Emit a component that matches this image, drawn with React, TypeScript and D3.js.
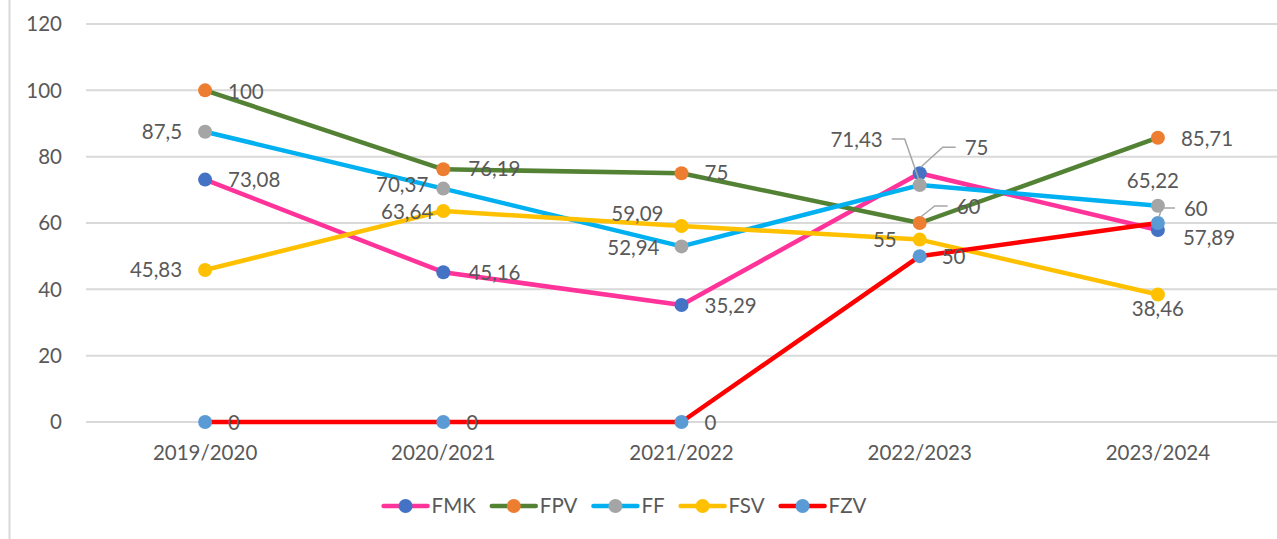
import { useEffect, useRef } from 'react'
import * as d3 from 'd3'

const years = ['2019/2020', '2020/2021', '2021/2022', '2022/2023', '2023/2024']
const yTicks = [0, 20, 40, 60, 80, 100, 120]

const fmk = [73.08, 45.16, 35.29, 75, 57.89]
const fpv = [100, 76.19, 75, 60, 85.71]
const ff = [87.5, 70.37, 52.94, 71.43, 65.22]
const fsv = [45.83, 63.64, 59.09, 55, 38.46]
const fzv = [0, 0, 0, 50, 60]

// label placement per point: [dx, dy, anchor, leader?]
type Place = [number, number, string, boolean?]
const fmkPlace: Place[] = [[23, 0, 'start'], [25, 1, 'start'], [23, 1, 'start'], [45, -25, 'start', true], [25, 8, 'start']]
const fpvPlace: Place[] = [[23, 1, 'start'], [25, 0, 'start'], [23, 0, 'start'], [37, -16, 'start', true], [23, 1, 'start']]
const ffPlace: Place[] = [[-23, 0, 'end'], [-15, -4, 'end'], [-22, 1, 'end'], [-37, -45, 'end', true], [-5, -25, 'middle']]
const fsvPlace: Place[] = [[-23, 0, 'end'], [-10, 1, 'end'], [-18, -12, 'end'], [-23, 0, 'end'], [0, 14, 'middle']]
const fzvPlace: Place[] = [[23, 1, 'start'], [23, 1, 'start'], [23, 1, 'start'], [22, 1, 'start'], [26, -14, 'start', true]]

const series = [
  { name: 'FMK', values: fmk, place: fmkPlace, line: '#FF3399', marker: '#4472C4' },
  { name: 'FPV', values: fpv, place: fpvPlace, line: '#548235', marker: '#ED7D31' },
  { name: 'FF', values: ff, place: ffPlace, line: '#00B0F0', marker: '#A5A5A5' },
  { name: 'FSV', values: fsv, place: fsvPlace, line: '#FFC000', marker: '#FFC000' },
  { name: 'FZV', values: fzv, place: fzvPlace, line: '#FF0000', marker: '#5B9BD5' },
]

const W = 1277
const H = 539
const FONT = 'Lato, "Open Sans", sans-serif'
const TXT = '#595959'
const FS = 20.5

export default function App() {
  const svgRef = useRef<SVGSVGElement>(null)

  useEffect(() => {
    if (!svgRef.current) return
    const svg = d3.select(svgRef.current)
    svg.selectAll('*').remove()

    const left = 86, right = W, top = 24, bottom = 422

    const x = d3.scalePoint<string>().domain(years).range([left, right]).padding(0.5)
    const y = d3.scaleLinear().domain([0, 120]).range([bottom, top])

    // chart frame edge
    svg.append('line')
      .attr('x1', 9.5).attr('x2', 9.5).attr('y1', 0).attr('y2', H)
      .attr('stroke', '#d9d9d9').attr('stroke-width', 2)

    // gridlines
    svg.append('g').selectAll('line')
      .data(yTicks)
      .enter()
      .append('line')
      .attr('x1', left).attr('x2', right)
      .attr('y1', d => y(d)).attr('y2', d => y(d))
      .attr('stroke', '#d9d9d9').attr('stroke-width', 2)

    svg.append('g').selectAll('text')
      .data(yTicks)
      .enter()
      .append('text')
      .attr('x', 62).attr('y', d => y(d))
      .attr('dy', '0.35em')
      .attr('text-anchor', 'end')
      .attr('font-family', FONT).attr('font-size', FS).attr('fill', TXT)
      .text(d => d)

    svg.append('g').selectAll('text')
      .data(years)
      .enter()
      .append('text')
      .attr('x', d => x(d)!).attr('y', 453)
      .attr('dy', '0.35em')
      .attr('text-anchor', 'middle')
      .attr('font-family', FONT).attr('font-size', FS).attr('fill', TXT)
      .text(d => d)

    const line = d3.line<number>()
      .x((_, i) => x(years[i])!)
      .y(d => y(d))

    series.forEach(s => {
      svg.append('path')
        .datum(s.values)
        .attr('d', line)
        .attr('fill', 'none')
        .attr('stroke', s.line)
        .attr('stroke-width', 4.5)
        .attr('stroke-linejoin', 'round')
        .attr('stroke-linecap', 'round')
      svg.append('g').selectAll('circle')
        .data(s.values)
        .enter()
        .append('circle')
        .attr('cx', (_, i) => x(years[i])!)
        .attr('cy', d => y(d))
        .attr('r', 7)
        .attr('fill', s.marker)
    })

    // data labels and leader lines
    const fmt = (v: number) => String(v).replace('.', ',')
    series.forEach(s => {
      s.values.forEach((v, i) => {
        const [dx, dy, anchor, leader] = s.place[i]
        const px = x(years[i])!, py = y(v)
        const tx = px + dx, ty = py + dy
        if (leader) {
          const dir = anchor === 'end' ? 1 : -1
          const e1 = tx + dir * 9, e2 = tx + dir * 22
          svg.append('polyline')
            .attr('points', `${e1},${ty - 1} ${e2},${ty - 1} ${px - dir * 1},${py - 6}`)
            .attr('fill', 'none')
            .attr('stroke', '#A6A6A6')
            .attr('stroke-width', 1.5)
        }
        svg.append('text')
          .attr('x', tx).attr('y', ty)
          .attr('dy', '0.35em')
          .attr('text-anchor', anchor)
          .attr('font-family', FONT).attr('font-size', FS).attr('fill', TXT)
          .text(fmt(v))
      })
    })

    // legend
    const lg = svg.append('g')
    let cx = 0
    series.forEach(s => {
      const g = lg.append('g').attr('transform', `translate(${cx},0)`)
      g.append('line')
        .attr('x1', 0).attr('x2', 44).attr('y1', 0).attr('y2', 0)
        .attr('stroke', s.line).attr('stroke-width', 4.5).attr('stroke-linecap', 'round')
      g.append('circle').attr('cx', 22).attr('cy', 0).attr('r', 7).attr('fill', s.marker)
      const t = g.append('text')
        .attr('x', 48).attr('y', 0).attr('dy', '0.35em')
        .attr('font-family', FONT).attr('font-size', FS).attr('fill', TXT)
        .text(s.name)
      const w = (t.node() as SVGTextElement).getComputedTextLength()
      cx += 48 + w + 16
    })
    const total = cx - 16
    lg.attr('transform', `translate(${625 - total / 2},506)`)
  }, [])

  return (
    <svg
      ref={svgRef}
      width={W}
      height={H}
      style={{ position: 'absolute', left: 0, top: 0, background: '#fff' }}
    />
  )
}
